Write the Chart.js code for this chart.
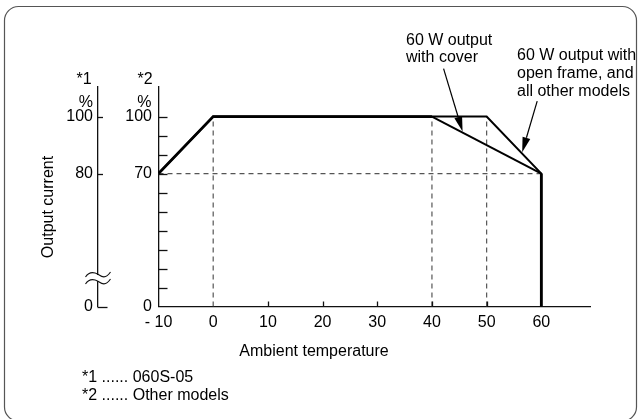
<!DOCTYPE html>
<html>
<head>
<meta charset="utf-8">
<script src="https://cdn.jsdelivr.net/npm/chart.js@4.4.1/dist/chart.umd.min.js"></script>
<style>
  html, body { margin: 0; padding: 0; background: #fff; }
  #wrap { width: 640px; height: 419px; }
</style>
</head>
<body>
<div id="wrap"><canvas id="c" width="640" height="419"></canvas></div>
<script>
const FONT = '"Liberation Sans", Arial, Helvetica, sans-serif';
const INK = '#111';

// Derating curves: ambient temperature (°C) vs. output current (%)
const coverTemps = [-10, 0, 40, 60, 60];
const coverLoad  = [70, 100, 100, 70, 0];
const openTemps  = [-10, 0, 50, 60, 60];
const openLoad   = [70, 100, 100, 70, 0];

// Dashed reference lines
const guideTemps = [0, 40, 50];
const guideTop = 100;
const guideLevel = 70;
const guideLevelSpan = [-10, 60];

// Axis ticks
const xTickValues = [-10, 0, 10, 20, 30, 40, 50, 60];
const xTickLabels = ['- 10', '0', '10', '20', '30', '40', '50', '60'];
const xMinorTicks = [10, 20, 30, 40, 50];
const y2TickValues = [0, 70, 100];
const y2TickLabels = ['0', '70', '100'];
const y2MinorTicks = [10, 20, 30, 40, 50, 60, 70, 80, 90, 100];
const y1TickValues = [0, 70, 100];
const y1TickLabels = ['0', '80', '100'];
const y1BreakAt = 15;

// Callout targets (temperature on each curve)
const coverArrowTemp = 45.6;
const openArrowTemp = 56.5;

const xy = (xs, ys) => xs.map((x, i) => ({ x, y: ys[i] }));
const lerpCurve = (xs, ys, t) => {
  for (let i = 0; i < xs.length - 1; i++) {
    if (t >= xs[i] && t <= xs[i + 1] && xs[i + 1] !== xs[i]) {
      const f = (t - xs[i]) / (xs[i + 1] - xs[i]);
      return ys[i] + f * (ys[i + 1] - ys[i]);
    }
  }
  return ys[ys.length - 1];
};

const dashStyle = {
  showLine: true, pointRadius: 0, borderColor: '#555', borderWidth: 1.2,
  borderDash: [5, 4], order: 5
};
const guideSets = guideTemps.map(t => ({
  data: [{ x: t, y: 0 }, { x: t, y: guideTop }], ...dashStyle
}));
guideSets.push({
  data: [{ x: guideLevelSpan[0], y: guideLevel }, { x: guideLevelSpan[1], y: guideLevel }],
  ...dashStyle
});

const curveSets = [
  {
    label: '60 W output with cover',
    data: xy(coverTemps, coverLoad),
    showLine: true, pointRadius: 0, borderColor: '#000', borderWidth: 2.8,
    borderJoinStyle: 'miter', order: 1,
    segment: {
      borderWidth: ctx => (ctx.p0.parsed.x >= coverTemps[2] && ctx.p1.parsed.x > ctx.p0.parsed.x) ? 2 : 2.8
    }
  },
  {
    label: '60 W output with open frame, and all other models',
    data: xy(openTemps, openLoad),
    showLine: true, pointRadius: 0, borderColor: '#000', borderWidth: 2,
    borderJoinStyle: 'miter', order: 2
  }
];

function arrow(ctx, x0, y0, x1, y1) {
  const a = Math.atan2(y1 - y0, x1 - x0);
  const len = 15, half = 4;
  const bx = x1 - len * Math.cos(a), by = y1 - len * Math.sin(a);
  ctx.beginPath();
  ctx.moveTo(x0, y0);
  ctx.lineTo(bx, by);
  ctx.lineWidth = 1.2;
  ctx.strokeStyle = '#000';
  ctx.stroke();
  ctx.beginPath();
  ctx.moveTo(x1, y1);
  ctx.lineTo(bx + half * Math.sin(a), by - half * Math.cos(a));
  ctx.lineTo(bx - half * Math.sin(a), by + half * Math.cos(a));
  ctx.closePath();
  ctx.fillStyle = '#000';
  ctx.fill();
}

const decorations = {
  id: 'decorations',
  beforeDraw(chart) {
    const ctx = chart.ctx;
    ctx.save();
    ctx.fillStyle = '#fff';
    ctx.fillRect(0, 0, chart.width, chart.height);
    // rounded frame
    const l = 4.5, t = 6.5, r = 636.5, b = 421, rad = 14;
    ctx.beginPath();
    ctx.moveTo(l + rad, t);
    ctx.lineTo(r - rad, t);
    ctx.arcTo(r, t, r, t + rad, rad);
    ctx.lineTo(r, b - rad);
    ctx.arcTo(r, b, r - rad, b, rad);
    ctx.lineTo(l + rad, b);
    ctx.arcTo(l, b, l, b - rad, rad);
    ctx.lineTo(l, t + rad);
    ctx.arcTo(l, t, l + rad, t, rad);
    ctx.closePath();
    ctx.strokeStyle = '#555';
    ctx.lineWidth = 1.2;
    ctx.stroke();
    ctx.restore();
  },
  afterDraw(chart) {
    const ctx = chart.ctx;
    const sx = chart.scales.x, sy = chart.scales.y, s1 = chart.scales.y1;
    const area = chart.chartArea;
    ctx.save();
    ctx.strokeStyle = INK;
    ctx.lineWidth = 1.3;

    // inner tick marks on the temperature axis
    xMinorTicks.forEach(v => {
      const px = Math.round(sx.getPixelForValue(v)) + 0.5;
      ctx.beginPath(); ctx.moveTo(px, area.bottom); ctx.lineTo(px, area.bottom - 5); ctx.stroke();
    });
    // inner tick marks on the *2 axis
    y2MinorTicks.forEach(v => {
      const py = Math.round(sy.getPixelForValue(v)) + 0.5;
      ctx.beginPath(); ctx.moveTo(area.left, py); ctx.lineTo(area.left + 9, py); ctx.stroke();
    });
    // tick marks on the *1 axis
    const a1 = s1.right;
    y1TickValues.forEach(v => {
      const py = Math.round(s1.getPixelForValue(v)) + 0.5;
      const len = v === 0 ? 10 : 5.5;
      ctx.beginPath(); ctx.moveTo(a1, py); ctx.lineTo(a1 + len, py); ctx.stroke();
    });

    // axis break on the *1 axis
    const bY = s1.getPixelForValue(y1BreakAt);
    ctx.fillStyle = '#fff';
    ctx.fillRect(a1 - 2, bY - 3, 4, 6);
    ctx.lineWidth = 1.1;
    [-3.5, 3.5].forEach(dy => {
      const y = bY + dy;
      ctx.beginPath();
      ctx.moveTo(a1 - 12, y + 2.5);
      ctx.bezierCurveTo(a1 - 7, y - 5, a1 - 1, y - 1, a1 + 1, y);
      ctx.bezierCurveTo(a1 + 4, y + 2, a1 + 8, y + 5, a1 + 13, y - 2.5);
      ctx.stroke();
    });

    ctx.fillStyle = '#000';
    ctx.font = '16px ' + FONT;
    ctx.textBaseline = 'alphabetic';

    // axis headers
    ctx.textAlign = 'center';
    ctx.fillText('*1', a1 - 13.5, 84);
    ctx.fillText('*2', area.left - 13.5, 84);
    ctx.textAlign = 'right';
    ctx.fillText('%', a1 - 4.5, 106.5);
    ctx.fillText('%', area.left - 7, 106.5);

    // axis titles
    ctx.textAlign = 'center';
    ctx.fillText('Ambient temperature', 314, 356);
    ctx.save();
    ctx.translate(52.5, 207);
    ctx.rotate(-Math.PI / 2);
    ctx.fillText('Output current', 0, 0);
    ctx.restore();

    // footnotes
    ctx.textAlign = 'left';
    ctx.fillText('*1 ...... 060S-05', 82, 382);
    ctx.fillText('*2 ...... Other models', 82, 400);

    // callouts
    ctx.fillText('60 W output', 406, 45);
    ctx.fillText('with cover', 406, 62);
    ctx.fillText('60 W output with', 517, 59.5);
    ctx.fillText('open frame, and', 517, 77.5);
    ctx.fillText('all other models', 517, 95.5);

    const c1x = sx.getPixelForValue(coverArrowTemp);
    const c1y = sy.getPixelForValue(lerpCurve(coverTemps, coverLoad, coverArrowTemp)) - 1;
    arrow(ctx, c1x - 19, c1y - 63, c1x, c1y);
    const c2x = sx.getPixelForValue(openArrowTemp);
    const c2y = sy.getPixelForValue(lerpCurve(openTemps, openLoad, openArrowTemp)) - 1.5;
    arrow(ctx, c2x + 15, c2y - 51, c2x, c2y);

    ctx.restore();
  }
};

const tickFont = { family: FONT, size: 16 };

new Chart(document.getElementById('c'), {
  type: 'scatter',
  data: { datasets: [...curveSets, ...guideSets] },
  options: {
    responsive: false,
    animation: false,
    devicePixelRatio: 1,
    layout: { padding: { left: 20, right: 50, top: 87, bottom: 72.5 } },
    plugins: { legend: { display: false }, tooltip: { enabled: false } },
    scales: {
      x: {
        type: 'linear', position: 'bottom', min: -10, max: 68.9,
        grid: { display: false, drawTicks: false },
        border: { display: true, color: INK, width: 1.3 },
        afterBuildTicks: s => { s.ticks = xTickValues.map(v => ({ value: v })); },
        afterFit: s => { s.height = 40; },
        ticks: {
          padding: 6, color: '#000', font: tickFont, maxRotation: 0, autoSkip: false,
          callback: (v) => xTickLabels[xTickValues.indexOf(v)]
        }
      },
      y: {
        type: 'linear', position: 'left', min: 0, max: 115.6,
        grid: { display: false, drawTicks: false },
        border: { display: true, color: INK, width: 1.3 },
        afterBuildTicks: s => { s.ticks = y2TickValues.map(v => ({ value: v })); },
        afterFit: s => { s.width = 61; },
        ticks: {
          padding: 6.5, color: '#000', font: tickFont, autoSkip: false,
          callback: (v) => y2TickLabels[y2TickValues.indexOf(v)]
        }
      },
      y1: {
        type: 'linear', position: 'left', min: 0, max: 115.6,
        grid: { display: false, drawTicks: false },
        border: { display: true, color: INK, width: 1.3 },
        afterBuildTicks: s => { s.ticks = y1TickValues.map(v => ({ value: v })); },
        afterFit: s => { s.width = 77.5; },
        ticks: {
          padding: 4.5, color: '#000', font: tickFont, autoSkip: false,
          callback: (v) => y1TickLabels[y1TickValues.indexOf(v)]
        }
      }
    }
  },
  plugins: [decorations]
});
</script>
</body>
</html>
